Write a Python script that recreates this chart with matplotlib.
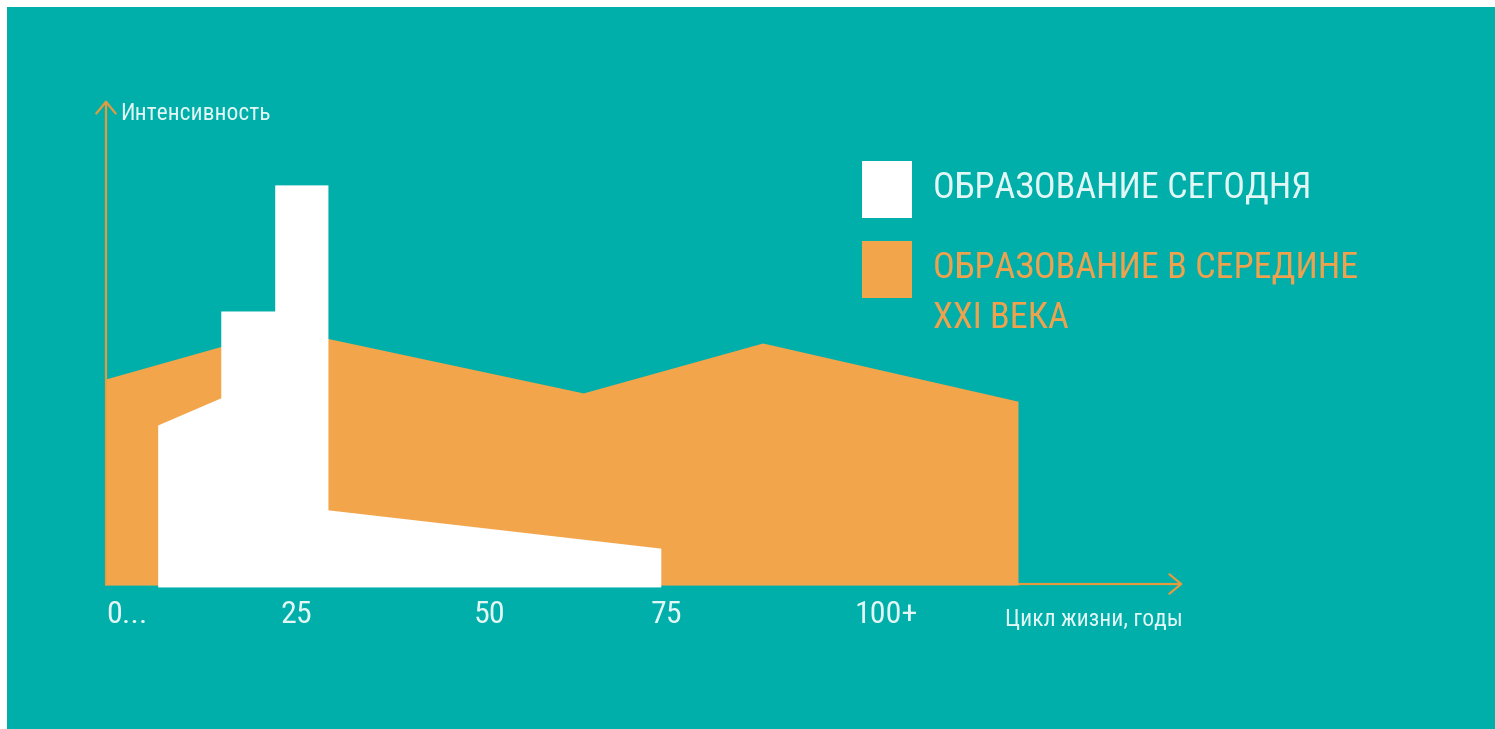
import matplotlib.pyplot as plt
from matplotlib.patches import Rectangle

# colours
TEAL = '#00AFAA'
ORANGE = '#F3A54B'
AXIS_ORANGE = '#E39B3F'
TEXT_LIGHT = '#E2F7F5'
TEXT_ORANGE = '#EFA24E'

FONT = ['Roboto Condensed', 'DejaVu Sans']

# data: life cycle (years) vs intensity (arbitrary 0..100)
age_future = [0, 23.3, 62.8, 86.4, 120]
intensity_future = [42.5, 52.8, 39.6, 49.9, 37.9]

age_today = [6.8, 15.1, 15.1, 22.2, 22.2, 29.2, 29.2, 73.0]
intensity_today = [33.0, 38.6, 56.5, 56.5, 82.5, 82.5, 15.5, 7.6]

tick_pos = [0, 25, 50.5, 73.8, 102.7]
tick_labels = ['0...', '25', '50', '75', '100+']

legend_labels = ['ОБРАЗОВАНИЕ СЕГОДНЯ', 'ОБРАЗОВАНИЕ В СЕРЕДИНЕ\nXXI ВЕКА']

W, H = 1495, 729
PX_X, PX_Y = 7.6, 4.85     # pixels per unit
X0, Y0 = 106, 585          # pixel position of origin


def fx(px):
    return px / W


def fy(py):
    return (H - py) / H


fig = plt.figure(figsize=(W / 100, H / 100), dpi=100, facecolor='white')
ax = fig.add_axes([7 / W, 0, (W - 7) / W, (H - 7) / H])
ax.set_facecolor(TEAL)
ax.set_xlim((7 - X0) / PX_X, (W - X0) / PX_X)
ax.set_ylim((Y0 - H) / PX_Y, (Y0 - 7) / PX_Y)
ax.set_xticks([])
ax.set_yticks([])
for s in ax.spines.values():
    s.set_visible(False)

# axes arrows
arrow = dict(arrowstyle='->,head_length=0.85,head_width=0.7',
             color=AXIS_ORANGE, lw=1.6, shrinkA=0, shrinkB=0)
ax.annotate('', xy=(0, 100), xytext=(0, 0), arrowprops=arrow, zorder=1)
ax.annotate('', xy=(141.7, 0.2), xytext=(0, 0.2), arrowprops=arrow, zorder=1)

# areas
ax.fill_between(age_future, 0, intensity_future, color=ORANGE, lw=0, zorder=2)
ax.fill_between(age_today, -0.4, intensity_today, color='white', lw=0, zorder=3)

# tick labels
for p, lab in zip(tick_pos, tick_labels):
    ha = 'left' if p == 0 else 'center'
    ax.text(p, -6.1, lab, ha=ha, va='center', fontsize=23, fontstretch='condensed',
            color=TEXT_LIGHT, family=FONT)

fig.text(fx(120), fy(113), 'Интенсивность', ha='left', va='center',
         fontsize=17, fontstretch='condensed', color=TEXT_LIGHT, family=FONT)
fig.text(fx(1183), fy(620), 'Цикл жизни, годы', ha='right', va='center',
         fontsize=17, fontstretch='condensed', color=TEXT_LIGHT, family=FONT)

# legend
sq = [(161, 'white', TEXT_LIGHT, 187), (241, ORANGE, TEXT_ORANGE, 267)]
for (top, fc, tc, ty), lab in zip(sq, legend_labels):
    fig.patches.append(Rectangle((fx(862), fy(top + 57)), 50 / W, 57 / H,
                                 transform=fig.transFigure, color=fc, lw=0))
    lines = lab.split('\n')
    for i, line in enumerate(lines):
        fig.text(fx(933), fy(ty + 51 * i), line, ha='left', va='center',
                 fontsize=26, fontstretch='condensed', color=tc, family=FONT)

fig.savefig('out.png', dpi=100, facecolor='white')
